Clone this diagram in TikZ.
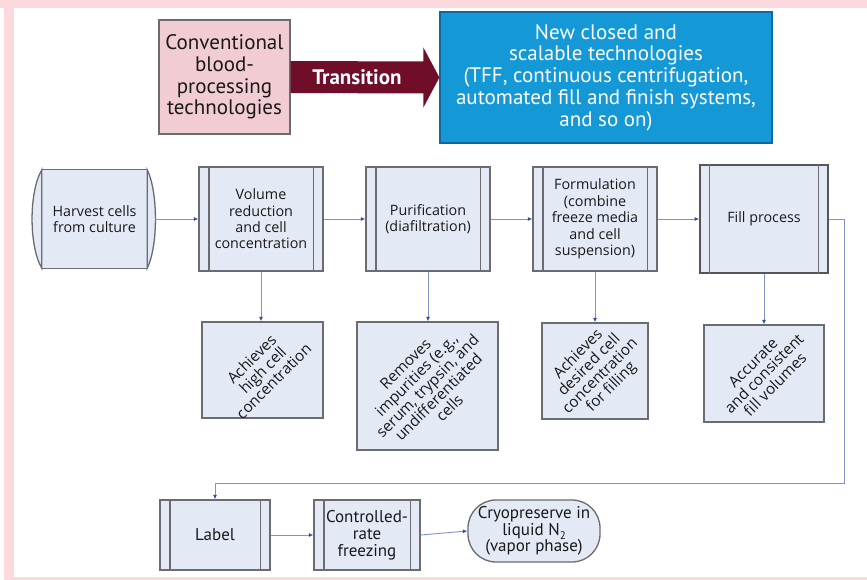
\documentclass[tikz,border=0pt]{standalone}
\usepackage{fontspec}
\setmainfont{Open Sans}
\newfontfamily\narrowsans{PT Sans}
\usetikzlibrary{calc,arrows.meta}

\definecolor{framepink}{RGB}{251,217,221}
\definecolor{convpink}{RGB}{241,204,210}
\definecolor{maroon}{RGB}{112,14,42}
\definecolor{techblue}{RGB}{20,152,214}
\definecolor{techedge}{RGB}{12,105,160}
\definecolor{boxfill}{RGB}{228,233,246}
\definecolor{boxgray}{RGB}{108,108,112}
\definecolor{linkblue}{RGB}{128,146,200}
\definecolor{tipblue}{RGB}{48,78,146}
\definecolor{inkgray}{RGB}{25,25,25}

\newcommand\boxfont{\fontsize{14.3}{16.4}\selectfont}
\newcommand\notefont{\fontsize{15.3}{15.6}\selectfont}
\newcommand\lowfont{\narrowsans\fontsize{17}{16.8}\selectfont}
\newcommand\topfont{\narrowsans\fontsize{21}{21.8}\selectfont}

\begin{document}
\begin{tikzpicture}[x=1pt,y=-1pt,
  edge/.style={draw=boxgray, line width=1.3pt},
  procbox/.style={edge, fill=boxfill, text=inkgray, align=center, inner sep=0pt, font=\boxfont},
  notebox/.style={edge, fill=boxfill, inner sep=0pt},
  notetext/.style={rotate=45, align=center, text=inkgray, font=\notefont, inner sep=0pt},
  flow/.style={draw=linkblue, line width=0.9pt, -{Latex[length=4.5pt,width=4pt,color=tipblue]}}
]
% page frame
\fill[framepink] (0,0) rectangle (867,580);
\fill[white] (14,8) rectangle (867,577);
\fill[white] (0,8) rectangle (4,580);
\useasboundingbox (0,0) rectangle (867,580);

% heading: old and new technologies
\node[draw=boxgray, line width=1.2pt, fill=convpink, minimum width=131, minimum height=114,
      align=center, inner sep=0pt, text=inkgray, font=\topfont] (conv) at (224.5,77)
  {Conventional\\blood-\\processing\\technologies};
\node[draw=techedge, line width=1.2pt, fill=techblue, minimum width=332, minimum height=131,
      align=center, inner sep=0pt, text=white, font=\topfont] (newtech) at (606,77.5)
  {New closed and\\scalable technologies\\(TFF, continuous centrifugation,\\automated fill and finish systems,\\and so on)};
\fill[maroon] ($(conv.east)+(0,-16)$) -- ($(newtech.west)+(-16,-16)$) -- ($(newtech.west)+(-16,-30)$)
  -- (newtech.west) -- ($(newtech.west)+(-16,30)$) -- ($(newtech.west)+(-16,16)$)
  -- ($(conv.east)+(0,16)$) -- cycle;
\node[text=white, font=\narrowsans\fontsize{21}{22}\bfseries] (trans)
  at ($(conv.east)!0.5!(newtech.west)+(-8,0)$) {Transition};

% main process row
\node[fill=boxfill, minimum width=105, minimum height=98, align=center, inner sep=0pt,
      text=inkgray, font=\boxfont] (harv) at (94.5,219) {Harvest cells\\from culture};
\draw[edge, fill=boxfill] (harv.north west) .. controls +(-13,22) and +(-13,-22) .. (harv.south west) -- cycle;
\draw[edge, fill=boxfill] (harv.north east) .. controls +(11,22) and +(11,-22) .. (harv.south east) -- cycle;
\draw[edge] (harv.north west) -- (harv.north east);
\draw[edge] (harv.south west) -- (harv.south east);

\node[procbox, minimum width=124, minimum height=104] (vol) at (261,219)
  {Volume\\reduction\\and cell\\concentration};
\node[procbox, minimum width=124, minimum height=104] (pur) at (428,219)
  {Purification\\(diafiltration)};
\node[procbox, minimum width=124, minimum height=104] (form) at (595,219)
  {Formulation\\(combine\\freeze media\\and cell\\suspension)};
\node[procbox, draw=boxgray!80!black, line width=1.6pt, minimum width=128, minimum height=108] (fill) at (764,219)
  {Fill process};

% outcome notes
\node[notebox, minimum width=121, minimum height=96] (ach) at (262.5,370) {};
\node[notetext] (achT) at (ach.center) {Achieves\\high cell\\concentration};
\node[notebox, minimum width=141, minimum height=128] (rem) at (427.5,386) {};
\node[notetext] (remT) at (rem.center) {Removes\\impurities (e.g.,\\serum, trypsin, and\\undifferentiated\\cells};
\node[notebox, minimum width=106, minimum height=96] (des) at (595,371) {};
\node[notetext] (desT) at (des.center) {Achieves\\desired cell\\concentration\\for filling};
\node[notebox, minimum width=120, minimum height=97] (acc) at (764,373.5) {};
\node[notetext] (accT) at (acc.center) {Accurate\\and consistent\\fill volumes};

% final row
\node[procbox, font=\lowfont, minimum width=110, minimum height=70] (lab) at (215,535) {Label};
\node[procbox, font=\lowfont, minimum width=106, minimum height=70] (crf) at (367,535)
  {Controlled-\\rate\\freezing};
\node[procbox, font=\lowfont, rounded corners=28pt, minimum width=132, minimum height=62] (cryo) at (534,531)
  {Cryopreserve in\\liquid N\raisebox{-0.45ex}{\fontsize{11}{11}\selectfont 2}\\(vapor phase)};

% double side bars of the process boxes
\foreach \n in {vol,pur,form,fill,lab,crf}{
  \draw[edge] ([xshift=10.5pt]\n.north west) -- ([xshift=10.5pt]\n.south west);
  \draw[edge] ([xshift=-10.5pt]\n.north east) -- ([xshift=-10.5pt]\n.south east);
}

% connectors
\draw[flow] (harv.east) ++(8,0) -- (vol.west);
\draw[flow] (vol.east) -- (pur.west);
\draw[flow] (pur.east) -- (form.west);
\draw[flow] (form.east) -- (fill.west);
\draw[flow] (vol.south) -- (vol.south |- ach.north);
\draw[flow] (pur.south) -- (pur.south |- rem.north);
\draw[flow] (form.south) -- (form.south |- des.north);
\draw[flow] (fill.south) -- (fill.south |- acc.north);
\coordinate (turn) at (844,483);
\draw[flow] (fill.east) -| (turn) -| (lab.north);
\draw[flow] (lab.east) -- (crf.west);
\draw[flow] (crf.east) -- (cryo.west);
\end{tikzpicture}
\end{document}
